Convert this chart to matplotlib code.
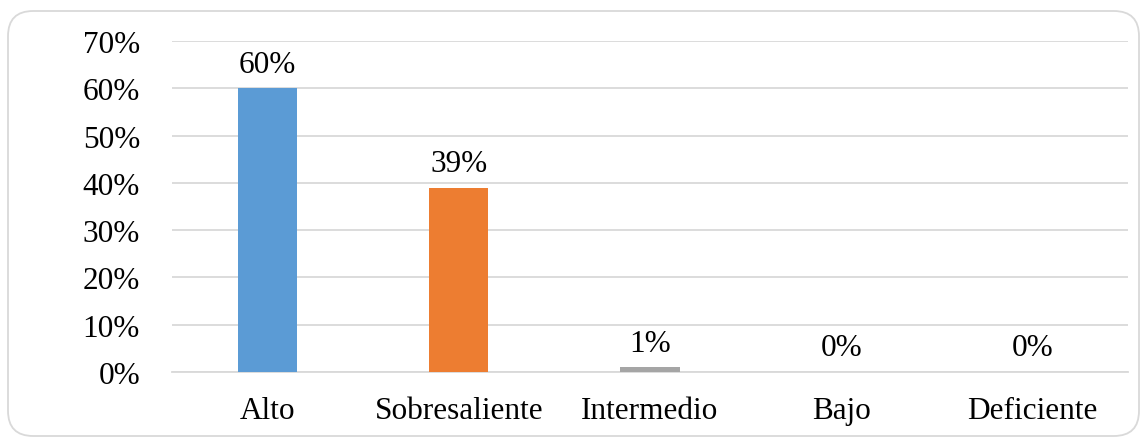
import matplotlib
matplotlib.use("Agg")
import matplotlib.pyplot as plt
from matplotlib.patches import FancyBboxPatch
from matplotlib.ticker import PercentFormatter

categories = ["Alto", "Sobresaliente", "Intermedio", "Bajo", "Deficiente"]
values = [60, 39, 1, 0, 0]
labels = ["60%", "39%", "1%", "0%", "0%"]
colors = ["#5B9BD5", "#ED7D31", "#A5A5A5", "#FFC000", "#4472C4"]
yticks = [0, 10, 20, 30, 40, 50, 60, 70]

plt.rcParams['font.family'] = ['Liberation Serif', 'DejaVu Serif']

W, H = 1144, 439
fig = plt.figure(figsize=(W/100, H/100), dpi=100)
ax = fig.add_axes([172/W, (H-373)/H, (1128-172)/W, (373-42)/H])

x = range(len(categories))
bars = ax.bar(x, values, width=0.31, color=colors, zorder=3)
for xi, v, lab in zip(x, values, labels):
    ax.annotate(lab, (xi, v), xytext=(0, 7), textcoords="offset points",
                ha="center", va="bottom", fontsize=22.5, color="#000000")

ax.set_xlim(-0.5, len(categories) - 0.5)
ax.set_ylim(0, 70)
ax.set_yticks(yticks)
ax.yaxis.set_major_formatter(PercentFormatter(decimals=0))
ax.set_xticks(list(x))
ax.set_xticklabels(categories)
ax.tick_params(axis="both", length=0, labelsize=22.5, colors="#000000")
ax.tick_params(axis="y", pad=23)
ax.tick_params(axis="x", pad=17)
ax.grid(axis="y", color="#D9D9D9", linewidth=1.3, zorder=0)
for s in ["top", "right", "left"]:
    ax.spines[s].set_visible(False)
ax.spines["bottom"].set_color("#D9D9D9")
ax.spines["bottom"].set_linewidth(1.3)

border = FancyBboxPatch((8/W, 2/H), (1139-8)/W, (427-2)/H,
                        boxstyle="round,pad=0,rounding_size=0.022",
                        transform=fig.transFigure, facecolor="none",
                        edgecolor="#D9D9D9", linewidth=1.3,
                        mutation_aspect=W/H)
fig.patches.append(border)

fig.savefig("out.png", dpi=100)
